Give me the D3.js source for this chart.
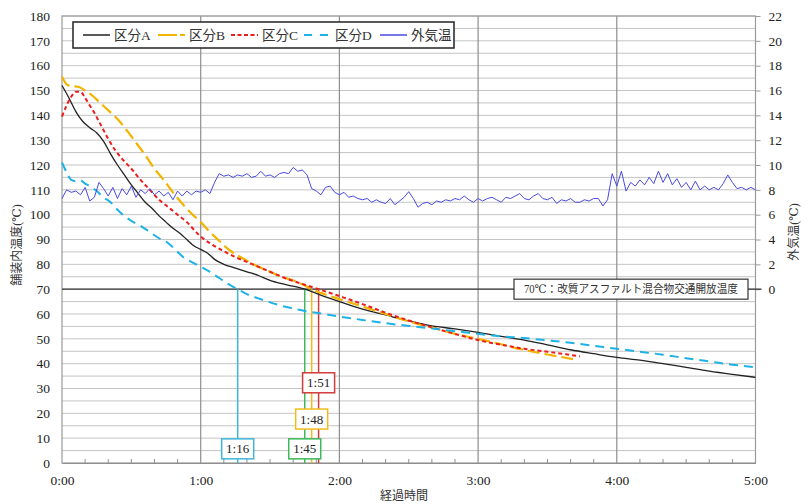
<!DOCTYPE html>
<html>
<head>
<meta charset="utf-8">
<script src="https://cdn.jsdelivr.net/npm/d3@7"></script>
<style>
  body { margin: 0; background: #fff; }
</style>
</head>
<body>
<div id="chart"></div>
<script>
// elapsed time in minutes, temperatures in degC
const timeA = [0, 3, 6, 9, 12, 15, 18, 21, 24, 27, 30, 33, 36, 39, 42, 45, 48, 51, 54, 57, 60, 63, 66, 70, 75, 80, 85, 90, 95, 100, 105, 110, 115, 120, 130, 140, 150, 160, 170, 180, 190, 200, 210, 220, 230, 240, 250, 260, 270, 280, 290, 300];
const kubunA = [152, 147, 141.5, 137.5, 135, 133, 129.5, 124.5, 120, 116, 112, 108.5, 105, 102.5, 99.5, 97, 94.5, 92.5, 90, 87.5, 86, 84.5, 82, 80, 78.5, 77, 75.5, 73.5, 72.2, 71.2, 70, 68.3, 66.6, 65, 62, 59.6, 57.2, 55.2, 54, 52.6, 51, 49.5, 47.6, 45.6, 44, 42.5, 41.4, 40, 38.5, 37, 35.7, 34.5];

const timeB = [0, 2, 4, 7, 10, 13, 16, 20, 24, 28, 32, 36, 40, 44, 48, 52, 56, 60, 64, 68, 72, 76, 80, 85, 90, 95, 100, 105, 108, 112, 120, 130, 140, 150, 160, 170, 180, 190, 200, 210, 223];
const kubunB = [155.5, 152.5, 151.8, 151.5, 150, 148, 145.5, 142, 138.5, 134, 129, 124, 118.5, 114, 109, 104.5, 100.5, 97, 93, 89.5, 86, 83.5, 81.5, 79, 77, 75, 73.5, 71.5, 70, 68.5, 66, 63, 60, 57, 54.5, 52, 50, 47.8, 45.5, 43.7, 41.5];

const timeC = [0, 2, 4, 6, 8, 10, 12, 14, 16, 18, 20, 23, 26, 30, 34, 38, 42, 46, 50, 54, 58, 60, 64, 68, 72, 76, 80, 85, 90, 95, 100, 105, 111, 120, 130, 140, 150, 160, 170, 180, 190, 200, 210, 218, 224];
const kubunC = [139.5, 144, 147.5, 149.5, 149.5, 147, 144, 141, 137.5, 134, 130.5, 126, 122.5, 118.5, 114, 110, 106, 103, 100, 97, 93, 91.2, 88.5, 86.3, 84.3, 82.5, 81, 79, 77, 75, 73.3, 71.8, 70, 67.2, 64, 60.5, 57.4, 54.6, 52, 49.5, 47.6, 46, 44.8, 43.8, 42.9];

const timeD = [0, 2, 4, 6, 8, 10, 12, 15, 18, 21, 24, 27, 30, 34, 38, 42, 46, 50, 53, 56, 60, 64, 68, 72, 76, 80, 85, 90, 95, 100, 105, 110, 120, 130, 140, 150, 160, 170, 180, 190, 200, 210, 220, 230, 240, 250, 260, 270, 280, 290, 300];
const kubunD = [121, 117, 114, 113.5, 113.8, 112.5, 111.5, 109.5, 107, 105, 102, 99.5, 97.5, 95.5, 93, 90.5, 88.5, 85, 82.5, 81, 79, 77, 74.5, 72, 70, 68, 66.3, 64.7, 63.3, 62.2, 61.2, 60.5, 59, 57.6, 56.3, 55.2, 54.2, 53.1, 52, 51, 50.3, 49.4, 48.4, 47.2, 46, 44.8, 43.6, 42.2, 40.9, 39.6, 38.5];

// outside air temperature, one reading every 2 minutes from 0:00 to 5:00
const airStep = 2;
const airTemp = [
  7.3, 8.0, 7.8, 7.9, 7.6, 8.2, 7.1, 7.4, 8.6, 8.1, 7.5, 8.2, 7.3, 8.1, 7.6, 8.3, 7.4, 8.0, 7.7, 8.1,
  7.6, 7.9, 7.5, 7.8, 7.2, 7.9, 7.5, 7.9, 7.6, 7.9, 7.8, 8.0, 7.7, 8.6, 9.3, 9.1, 9.2, 9.0, 9.2, 9.1,
  9.3, 9.0, 9.1, 9.5, 9.1, 9.2, 9.0, 9.3, 9.4, 9.3, 9.8, 9.5, 9.6, 9.2, 8.1, 7.9, 7.6, 8.2, 8.3, 7.8,
  7.6, 7.8, 7.4, 7.5, 7.3, 7.2, 7.3, 7.0, 7.2, 7.0, 6.9, 7.3, 6.8, 7.1, 7.4, 7.85, 7.3, 6.6, 6.9, 7.0,
  6.8, 7.1, 7.0, 7.2, 7.1, 7.3, 7.2, 7.5, 7.2, 7.0, 7.3, 7.1, 7.3, 7.4, 7.2, 7.0, 7.4, 7.3, 7.5, 7.7,
  7.3, 7.2, 7.5, 7.7, 7.3, 7.2, 7.4, 6.9, 7.2, 7.1, 7.3, 7.0, 7.0, 7.2, 7.1, 7.3, 7.3, 6.7, 7.2, 9.3,
  8.3, 9.5, 7.9, 8.6, 8.3, 8.8, 8.4, 9.0, 8.5, 9.5, 8.6, 9.3, 8.4, 8.9, 8.2, 8.6, 8.0, 8.7, 8.0, 8.3,
  8.0, 8.2, 8.0, 8.5, 9.2, 8.6, 8.1, 8.2, 8.0, 8.2, 8.0
];

const seriesNames = ['区分A', '区分B', '区分C', '区分D', '外気温'];
const xTickLabels = ['0:00', '1:00', '2:00', '3:00', '4:00', '5:00'];
const leftTicks = d3.range(0, 181, 10);
const rightTicks = d3.range(0, 23, 2);

// 70 degC opening times
const openLabels = ['1:16', '1:45', '1:48', '1:51'];
const openMinutes = [76, 105, 108, 111];
const openThreshold = 70;
const thresholdText = '70℃：改質アスファルト混合物交通開放温度';

// layout
const width = 809, height = 504;
const plot = { left: 62, right: 755.5, top: 16, bottom: 463 };
const openColors = ['#3fb6d8', '#3cb95a', '#f2bb1c', '#d23b3b'];
const openBoxY = [5.7, 5.7, 17.7, 32.3];
const font = '"Liberation Serif", "DejaVu Serif", "Noto Sans CJK JP", serif';

const svg = d3.select('#chart').append('svg')
  .attr('width', width)
  .attr('height', height)
  .attr('font-family', font);

const x = d3.scaleLinear().domain([0, 300]).range([plot.left, plot.right]);
const y = d3.scaleLinear().domain([0, 180]).range([plot.bottom, plot.top]);
const yAir = d3.scaleLinear().domain([-14, 22]).range([plot.bottom, plot.top]);

// horizontal grid every 5
svg.append('g')
  .selectAll('line')
  .data(d3.range(5, 181, 5))
  .join('line')
  .attr('x1', plot.left).attr('x2', plot.right)
  .attr('y1', d => y(d)).attr('y2', d => y(d))
  .attr('stroke', '#c4c4c4')
  .attr('stroke-width', 1);

// vertical hour lines
svg.append('g')
  .selectAll('line')
  .data([60, 120, 180, 240])
  .join('line')
  .attr('x1', d => x(d)).attr('x2', d => x(d))
  .attr('y1', plot.top).attr('y2', plot.bottom)
  .attr('stroke', '#8e8e8e')
  .attr('stroke-width', 1.2);

// plot frame
svg.append('rect')
  .attr('x', plot.left).attr('y', plot.top)
  .attr('width', plot.right - plot.left).attr('height', plot.bottom - plot.top)
  .attr('fill', 'none')
  .attr('stroke', '#9a9a9a')
  .attr('stroke-width', 1.2);

// x axis with labels and minor ticks
const xAxis = svg.append('g')
  .attr('transform', `translate(0, ${plot.bottom})`)
  .call(d3.axisBottom(x)
    .tickValues(d3.range(0, 301, 60))
    .tickSize(0)
    .tickPadding(12)
    .tickFormat((d, i) => xTickLabels[i]));
xAxis.attr('font-family', font);
xAxis.select('.domain').attr('stroke', '#8e8e8e');
xAxis.selectAll('text').attr('font-size', 13.5).attr('fill', '#222');

svg.append('g')
  .selectAll('line')
  .data(d3.range(10, 300, 10).filter(d => d % 60 !== 0))
  .join('line')
  .attr('x1', d => x(d)).attr('x2', d => x(d))
  .attr('y1', plot.bottom).attr('y2', plot.bottom - 4)
  .attr('stroke', '#8e8e8e');

// left axis
const yAxisL = svg.append('g')
  .attr('transform', `translate(${plot.left}, 0)`)
  .call(d3.axisLeft(y).tickValues(leftTicks).tickSize(0).tickPadding(12));
yAxisL.attr('font-family', font);
yAxisL.select('.domain').remove();
yAxisL.selectAll('text').attr('font-size', 13.5).attr('fill', '#222');

// right axis
const yAxisR = svg.append('g')
  .attr('transform', `translate(${plot.right}, 0)`)
  .call(d3.axisRight(yAir).tickValues(rightTicks).tickSize(5).tickPadding(8));
yAxisR.attr('font-family', font);
yAxisR.select('.domain').remove();
yAxisR.selectAll('line').attr('stroke', '#9a9a9a');
yAxisR.selectAll('text').attr('font-size', 13.5).attr('fill', '#222');

// axis titles
svg.append('text')
  .attr('transform', 'translate(21, 245) rotate(-90)')
  .attr('text-anchor', 'middle')
  .attr('font-size', 12)
  .attr('fill', '#333')
  .text('舗装内温度(℃)');
svg.append('text')
  .attr('transform', 'translate(798, 232) rotate(-90)')
  .attr('text-anchor', 'middle')
  .attr('font-size', 12)
  .attr('fill', '#333')
  .text('外気温(℃)');
svg.append('text')
  .attr('x', 404).attr('y', 500)
  .attr('text-anchor', 'middle')
  .attr('font-size', 12)
  .attr('fill', '#333')
  .text('経過時間');

// 70 degC threshold line
svg.append('line')
  .attr('x1', plot.left).attr('x2', plot.right + 6)
  .attr('y1', y(openThreshold)).attr('y2', y(openThreshold))
  .attr('stroke', '#333')
  .attr('stroke-width', 1.3);

// opening time markers
svg.append('g')
  .selectAll('line')
  .data(openMinutes)
  .join('line')
  .attr('x1', d => x(d)).attr('x2', d => x(d))
  .attr('y1', y(openThreshold)).attr('y2', plot.bottom)
  .attr('stroke', (d, i) => openColors[i])
  .attr('stroke-width', 1.5);

// series
const lineGen = d3.line().x(d => x(d[0])).y(d => y(d[1]));
const pair = (ts, vs) => ts.map((t, i) => [t, vs[i]]);

const series = [
  { pts: pair(timeA, kubunA), color: '#222', width: 1.3, dash: null },
  { pts: pair(timeB, kubunB), color: '#f2b400', width: 2.2, dash: '12,5' },
  { pts: pair(timeC, kubunC), color: '#ee1d1d', width: 2, dash: '4,3' },
  { pts: pair(timeD, kubunD), color: '#1fb2e6', width: 2, dash: '9,6' }
];

series.forEach(s => {
  svg.append('path')
    .datum(s.pts)
    .attr('fill', 'none')
    .attr('stroke', s.color)
    .attr('stroke-width', s.width)
    .attr('stroke-dasharray', s.dash)
    .attr('d', lineGen.curve(d3.curveMonotoneX));
});

svg.append('path')
  .datum(airTemp)
  .attr('fill', 'none')
  .attr('stroke', '#4a4ae0')
  .attr('stroke-width', 1)
  .attr('d', d3.line().x((d, i) => x(i * airStep)).y(d => yAir(d)));

// opening time boxes
openLabels.forEach((label, i) => {
  const cx = x(openMinutes[i]), cy = y(openBoxY[i]);
  svg.append('rect')
    .attr('x', cx - 16).attr('y', cy - 10)
    .attr('width', 32).attr('height', 20)
    .attr('fill', '#fff')
    .attr('stroke', openColors[i])
    .attr('stroke-width', 1.5);
  svg.append('text')
    .attr('x', cx).attr('y', cy + 4.5)
    .attr('text-anchor', 'middle')
    .attr('font-size', 13)
    .attr('fill', '#222')
    .text(label);
});

// threshold annotation
svg.append('rect')
  .attr('x', 514).attr('y', y(openThreshold) - 10)
  .attr('width', 234).attr('height', 20)
  .attr('fill', '#fff')
  .attr('stroke', '#333')
  .attr('stroke-width', 1.2);
svg.append('text')
  .attr('x', 631).attr('y', y(openThreshold) + 4)
  .attr('text-anchor', 'middle')
  .attr('font-size', 11.5)
  .attr('textLength', 214)
  .attr('lengthAdjust', 'spacingAndGlyphs')
  .attr('fill', '#333')
  .text(thresholdText);

// legend
const legend = svg.append('g');
legend.append('rect')
  .attr('x', 73).attr('y', 22)
  .attr('width', 381).attr('height', 26)
  .attr('fill', '#fff')
  .attr('stroke', '#222')
  .attr('stroke-width', 1.5);

const legendX = [83, 158, 231, 304, 380];
const legendStyles = [
  { color: '#222', width: 1.5, dash: null },
  { color: '#f2b400', width: 2, dash: '19,3,5' },
  { color: '#ee1d1d', width: 2, dash: '4,2.5' },
  { color: '#1fb2e6', width: 2, dash: '8,8' },
  { color: '#4a4ae0', width: 1.5, dash: null }
];
seriesNames.forEach((name, i) => {
  legend.append('line')
    .attr('x1', legendX[i]).attr('x2', legendX[i] + 27)
    .attr('y1', 35).attr('y2', 35)
    .attr('stroke', legendStyles[i].color)
    .attr('stroke-width', legendStyles[i].width)
    .attr('stroke-dasharray', legendStyles[i].dash);
  legend.append('text')
    .attr('x', legendX[i] + 31).attr('y', 40)
    .attr('font-size', 13.5)
    .attr('fill', '#333')
    .text(name);
});
</script>
</body>
</html>
